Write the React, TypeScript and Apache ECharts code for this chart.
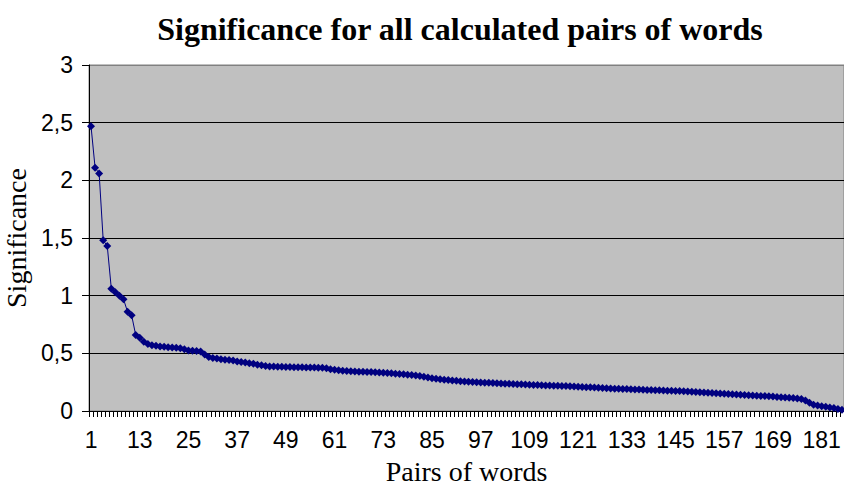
import React, { useEffect, useRef } from "react";
import * as echarts from "echarts";

const TITLE = "Significance for all calculated pairs of words";
const X_NAME = "Pairs of words";
const Y_NAME = "Significance";

const significance: number[] = [
  2.47, 2.11, 2.06, 1.48, 1.43, 1.06, 1.03, 1.0, 0.97, 0.86, 0.83, 0.66, 0.635,
  0.6, 0.58, 0.57, 0.565, 0.56, 0.556, 0.553, 0.55, 0.548, 0.545, 0.535, 0.525, 0.522, 0.52, 0.515,
  0.49, 0.468, 0.46, 0.455, 0.448, 0.445, 0.442, 0.437, 0.43, 0.425, 0.42, 0.415, 0.41, 0.402, 0.396, 0.39, 0.386,
  0.385, 0.384, 0.383, 0.382, 0.381, 0.38, 0.38, 0.379, 0.378, 0.378, 0.377, 0.376, 0.375, 0.37, 0.362,
  0.357, 0.353, 0.35, 0.347, 0.345, 0.343, 0.341, 0.34, 0.339, 0.338, 0.336, 0.334,
  0.332, 0.33, 0.327, 0.324, 0.321, 0.318, 0.315, 0.312, 0.308, 0.304, 0.298, 0.29, 0.284,
  0.279, 0.275, 0.271, 0.268, 0.265, 0.262, 0.259, 0.256, 0.254, 0.252, 0.25, 0.248, 0.246, 0.245,
  0.243, 0.241, 0.239, 0.237, 0.236, 0.234, 0.233, 0.231, 0.229, 0.227, 0.226, 0.225, 0.224, 0.222, 0.221, 0.22, 0.218, 0.217, 0.216, 0.214, 0.213, 0.211,
  0.209, 0.207, 0.205, 0.203, 0.201, 0.199, 0.197, 0.196, 0.194, 0.192, 0.191, 0.19, 0.188, 0.187, 0.186, 0.185, 0.183, 0.182, 0.18, 0.179, 0.178, 0.176, 0.175, 0.174,
  0.173, 0.171, 0.169, 0.167, 0.165, 0.163, 0.161, 0.158, 0.155, 0.153, 0.151, 0.149, 0.147, 0.145, 0.143, 0.141, 0.139, 0.137, 0.135, 0.133,
  0.131, 0.129, 0.127, 0.125, 0.122, 0.12, 0.118, 0.115, 0.112, 0.109,
  0.104, 0.092, 0.072, 0.055, 0.048, 0.042, 0.037, 0.031, 0.025, 0.018, 0.01,
];

// pair indices 1..N
const pairs: string[] = significance.map((_, i) => String(i + 1));

const Y_MIN = 0;
const Y_MAX = 3;
const Y_STEP = 0.5;

export default function App() {
  const ref = useRef<HTMLDivElement>(null);

  useEffect(() => {
    document.body.style.margin = "0";
    if (!ref.current) return;
    const chart = echarts.init(ref.current, undefined, { renderer: "svg" });
    chart.setOption({
      animation: false,
      backgroundColor: "#ffffff",
      graphic: [
        {
          type: "text",
          x: 460,
          y: 13,
          style: {
            text: TITLE,
            textAlign: "center",
            textVerticalAlign: "top",
            fontFamily: "Liberation Serif",
            fontWeight: "bold",
            fontSize: 32,
            fill: "#000000",
          },
        },
      ],
      grid: {
        left: 89,
        right: 0,
        top: 65,
        bottom: 79,
        containLabel: false,
        outerBoundsMode: "none",
        show: true,
        backgroundColor: "#c0c0c0",
        borderColor: "#808080",
        borderWidth: 1,
      },
      xAxis: {
        type: "category",
        data: pairs,
        boundaryGap: true,
        name: X_NAME,
        nameLocation: "middle",
        nameGap: 46,
        nameTextStyle: {
          fontFamily: "Liberation Serif",
          fontSize: 28,
          color: "#000000",
        },
        axisLine: { show: true, onZero: false, lineStyle: { color: "#000000", width: 1 } },
        axisTick: { show: true, interval: 0, length: 6, lineStyle: { color: "#000000" } },
        axisLabel: {
          interval: 11,
          margin: 17,
          fontFamily: "Liberation Sans",
          fontSize: 23,
          color: "#000000",
        },
        splitLine: { show: false },
      },
      yAxis: {
        type: "value",
        min: Y_MIN,
        max: Y_MAX,
        interval: Y_STEP,
        name: Y_NAME,
        nameLocation: "middle",
        nameRotate: 90,
        nameGap: 50,
        nameTextStyle: {
          fontFamily: "Liberation Serif",
          fontSize: 28,
          color: "#000000",
        },
        axisLine: { show: true, lineStyle: { color: "#000000", width: 1 } },
        axisTick: { show: true, length: 7, inside: false, lineStyle: { color: "#000000" } },
        axisLabel: {
          margin: 16,
          fontFamily: "Liberation Sans",
          fontSize: 23,
          color: "#000000",
          formatter: (v: number) => String(v).replace(".", ","),
        },
        splitLine: {
          show: true,
          lineStyle: {
            color: ["#000000", "#000000", "#000000", "#000000", "#000000", "#000000", "#808080"],
            width: 1,
          },
        },
      },
      series: [
        {
          type: "line",
          data: significance,
          symbol: "diamond",
          symbolSize: 8,
          showSymbol: true,
          showAllSymbol: true,
          itemStyle: { color: "#000080" },
          lineStyle: { color: "#000080", width: 1 },
        },
      ],
    });
    return () => chart.dispose();
  }, []);

  return <div ref={ref} style={{ width: 844, height: 490 }} />;
}
